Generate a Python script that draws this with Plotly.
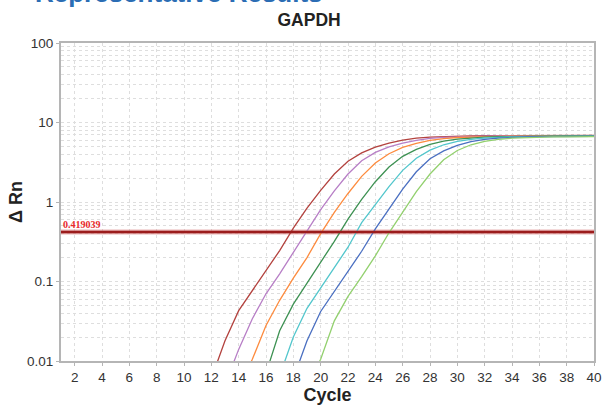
import math
import plotly.graph_objects as go

# ---------------- data ----------------
cycles = list(range(1, 41))

# Delta Rn per cycle (None = below the visible range / baseline)
red_vals = [None] * 11 + [
    0.006, 0.018, 0.043, 0.077, 0.135, 0.245, 0.47, 0.84, 1.4, 2.25,
    3.25, 4.15, 4.9, 5.5, 6.0, 6.35, 6.55, 6.67, 6.74, 6.78,
    6.81, 6.83, 6.85, 6.86, 6.87, 6.88, 6.89, 6.9, 6.9]
purple_vals = [None] * 12 + [
    0.005, 0.014, 0.034, 0.07, 0.125, 0.23, 0.44, 0.8, 1.38, 2.25,
    3.3, 4.2, 4.95, 5.5, 5.95, 6.3, 6.5, 6.62, 6.7, 6.74,
    6.77, 6.79, 6.8, 6.81, 6.82, 6.83, 6.84, 6.84]
orange_vals = [None] * 13 + [
    0.0045, 0.0105, 0.028, 0.058, 0.11, 0.2, 0.4, 0.74, 1.28, 2.1,
    3.1, 4.05, 4.85, 5.45, 5.95, 6.28, 6.48, 6.6, 6.67, 6.71,
    6.74, 6.76, 6.77, 6.78, 6.79, 6.8, 6.8]
green_vals = [None] * 15 + [
    0.007, 0.024, 0.052, 0.095, 0.17, 0.32, 0.61, 1.08, 1.8, 2.75,
    3.75, 4.6, 5.3, 5.82, 6.18, 6.42, 6.56, 6.64, 6.69, 6.72,
    6.74, 6.75, 6.76, 6.77, 6.77]
cyan_vals = [None] * 16 + [
    0.0065, 0.02, 0.046, 0.083, 0.145, 0.27, 0.55, 0.92, 1.56, 2.5,
    3.55, 4.5, 5.25, 5.8, 6.15, 6.38, 6.52, 6.6, 6.65, 6.68,
    6.7, 6.71, 6.72, 6.72]
blue_vals = [None] * 17 + [
    0.006, 0.018, 0.042, 0.075, 0.13, 0.24, 0.46, 0.83, 1.45, 2.4,
    3.5, 4.4, 5.15, 5.75, 6.12, 6.36, 6.5, 6.58, 6.63, 6.66,
    6.68, 6.69, 6.7]
lightgreen_vals = [None] * 18 + [
    0.005, 0.0105, 0.032, 0.065, 0.115, 0.21, 0.41, 0.75, 1.35, 2.25,
    3.4, 4.45, 5.25, 5.8, 6.15, 6.35, 6.47, 6.54, 6.58, 6.61,
    6.63, 6.64]

series = [
    ("Sample 1", red_vals, "#b3423e"),
    ("Sample 2", purple_vals, "#b77ec6"),
    ("Sample 3", orange_vals, "#fd8b3e"),
    ("Sample 4", green_vals, "#3d9152"),
    ("Sample 5", cyan_vals, "#52c6cc"),
    ("Sample 6", blue_vals, "#4a6fc1"),
    ("Sample 7", lightgreen_vals, "#92d06e"),
]

threshold = 0.419039
x_ticks = list(range(2, 41, 2))
y_ticks = [0.01, 0.1, 1, 10, 100]
y_ticktext = ["0.01", "0.1", "1", "10", "100"]
y_minor = [m * 10 ** e for e in range(-2, 2) for m in range(2, 10)]

# ---------------- figure ----------------
fig = go.Figure()

# threshold line (halo + core)
fig.add_trace(go.Scatter(x=[cycles[0], cycles[-1]], y=[threshold, threshold],
                         mode="lines", line=dict(color="rgba(215,120,120,0.55)", width=5),
                         hoverinfo="skip", showlegend=False))
for name, vals, color in series:
    fig.add_trace(go.Scatter(x=cycles, y=vals, mode="lines", name=name,
                             line=dict(color=color, width=1.3), showlegend=False))
fig.add_trace(go.Scatter(x=[cycles[0], cycles[-1]], y=[threshold, threshold],
                         mode="lines", line=dict(color="#9b1c1c", width=2.4),
                         name="Threshold", showlegend=False))

grid = "#dedede"
axis_line = "#b5b5b5"
fig.update_layout(
    width=606, height=405,
    margin=dict(l=61, r=12, t=43, b=44, autoexpand=False),
    paper_bgcolor="white", plot_bgcolor="white",
    font=dict(family="Liberation Sans, Arial, sans-serif", color="#333333", size=13.5),
    title=dict(text="<b>GAPDH</b>", x=0.51, xanchor="center", y=1 - 20 / 405,
               yanchor="middle", font=dict(size=17.5, color="#222222")),
    showlegend=False,
)
fig.update_xaxes(
    range=[1, 40], tickvals=x_ticks, ticks="outside", ticklen=3, tickcolor=axis_line,
    showgrid=True, gridcolor=grid, griddash="3px,3px", gridwidth=1,
    showline=True, linecolor=axis_line, linewidth=2, mirror=True, zeroline=False,
    automargin=False,
    title=dict(text="<b>Cycle</b>", font=dict(size=18, color="#222222"), standoff=10),
)
fig.update_yaxes(
    type="log", range=[-2, 2], tickvals=y_ticks, ticktext=y_ticktext,
    ticks="outside", ticklen=3, tickcolor=axis_line,
    showgrid=True, gridcolor=grid, griddash="3px,3px", gridwidth=1,
    minor=dict(tickvals=y_minor, showgrid=True, gridcolor=grid, griddash="3px,3px",
               gridwidth=1, ticklen=0),
    showline=True, linecolor=axis_line, linewidth=2, mirror=True, zeroline=False,
    automargin=False,
    title=dict(text="<b>\u0394 Rn</b>", font=dict(size=18, color="#222222"), standoff=0),
)

# threshold value label
fig.add_annotation(x=cycles[0], y=math.log10(threshold), xref="x", yref="y",
                   text="<b>0.419039</b>", showarrow=False, xanchor="left", yanchor="bottom",
                   font=dict(family="Liberation Serif, DejaVu Serif, serif", size=10, color="#e8282a"))

# cut-off section heading at the very top
fig.add_annotation(x=-0.0525, y=1.1045, xref="paper", yref="paper",
                   text="<b>Representative Results</b>", showarrow=False,
                   xanchor="left", yanchor="bottom",
                   font=dict(family="Liberation Sans, Arial, sans-serif", size=26, color="#2b6db4"))

fig.write_html("out.html", config={"displayModeBar": False},
               post_script="document.body.style.margin='0';document.body.style.overflow='hidden';")
